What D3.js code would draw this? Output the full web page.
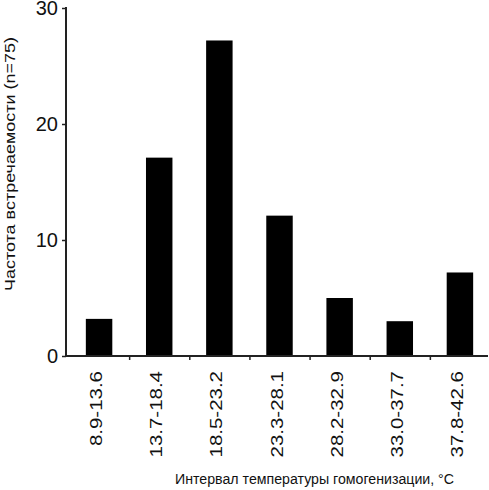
<!DOCTYPE html>
<html>
<head>
<meta charset="utf-8">
<script src="https://cdn.jsdelivr.net/npm/d3@7"></script>
<style>
html,body{margin:0;padding:0;background:#fff;}
svg{display:block;font-family:Arial,"Liberation Sans",sans-serif;}
</style>
</head>
<body>
<svg id="chart" width="489" height="490"></svg>
<script>
const categories = ["8.9-13.6","13.7-18.4","18.5-23.2","23.3-28.1","28.2-32.9","33.0-37.7","37.8-42.6"];
const counts = [3.2, 17.1, 27.2, 12.1, 5, 3, 7.2];
const yTicks = [0, 10, 20, 30];
const xTitle = "Интервал температуры гомогенизации, °C";
const yTitle = "Частота встречаемости (n=75)";

const svg = d3.select("#chart");
const axisColor = "#222";

const x = d3.scaleBand().domain(categories).range([69, 490]).paddingInner(0.56).paddingOuter(0.28);
const y = d3.scaleLinear().domain([0, 30]).range([356, 8]);
const xb = d3.scaleLinear().domain([0, categories.length]).range([69, 490]);

// bars
svg.append("g").selectAll("rect").data(categories).join("rect")
  .attr("x", d => x(d))
  .attr("width", x.bandwidth())
  .attr("y", (d, i) => y(counts[i]))
  .attr("height", (d, i) => y(0) - y(counts[i]))
  .attr("fill", "#000");

// y axis
const ya = svg.append("g").attr("transform", "translate(66,0)")
  .call(d3.axisLeft(y).tickValues(yTicks).tickSize(4).tickPadding(4).tickFormat(d3.format("d")));
ya.select(".domain").attr("stroke", axisColor).attr("stroke-width", 2).attr("d", `M0,${y(30)-1}V${y(0)+1}`);
ya.selectAll(".tick line").attr("stroke", axisColor).attr("stroke-width", 1.5);
ya.selectAll(".tick text").attr("font-size", 20).attr("fill", "#111")
  .attr("font-family", "Arial, 'Liberation Sans', sans-serif");

// x axis boundary ticks
const xt = svg.append("g").attr("transform", `translate(0,${y(0)})`)
  .call(d3.axisBottom(xb).tickValues(d3.range(1, categories.length + 1)).tickSize(4).tickFormat(""));
xt.select(".domain").attr("stroke", axisColor).attr("stroke-width", 2).attr("d", "M66,0H488");
xt.selectAll(".tick line").attr("stroke", axisColor).attr("stroke-width", 1.5);

// x labels
const sx = 1.28;
const xl = svg.append("g").attr("transform", `translate(0,${y(0)})`)
  .call(d3.axisBottom(x).tickSize(0).tickPadding(0));
xl.select(".domain").remove();
xl.selectAll(".tick text")
  .attr("font-size", 16).attr("fill", "#111")
  .attr("font-family", "Arial, 'Liberation Sans', sans-serif")
  .attr("text-anchor", "end")
  .attr("dy", "0.35em")
  .attr("x", -15 / sx).attr("y", -2.5)
  .attr("transform", `rotate(-90) scale(${sx},1)`);

// x title
svg.append("text").attr("x", 314.5).attr("y", 484).attr("text-anchor", "middle")
  .attr("font-size", 15.5).attr("fill", "#111")
  .attr("textLength", 279).attr("lengthAdjust", "spacingAndGlyphs")
  .text(xTitle);

// y title
const sy = 1.2;
svg.append("text")
  .attr("transform", `translate(15,164) rotate(-90) scale(${sy},1)`)
  .attr("text-anchor", "middle")
  .attr("font-size", 15).attr("fill", "#111").text(yTitle);
</script>
</body>
</html>
